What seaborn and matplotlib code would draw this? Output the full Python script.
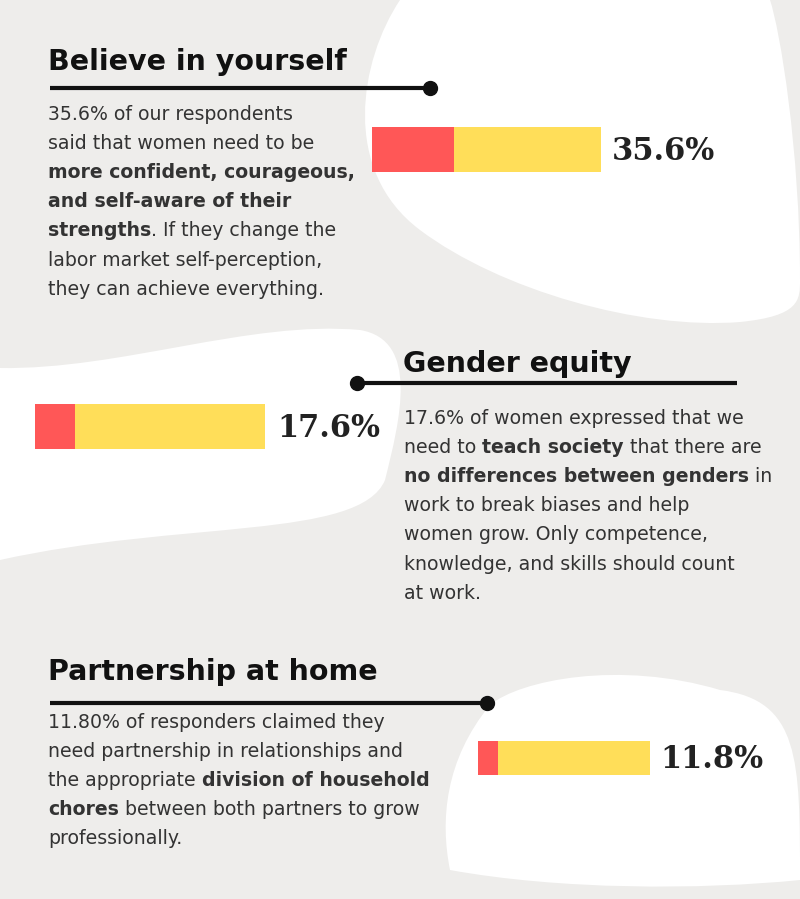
import matplotlib
matplotlib.use("Agg")
import matplotlib.pyplot as plt
from matplotlib.path import Path
from matplotlib.patches import PathPatch
import seaborn as sns

# data
labels = ["Believe in yourself", "Gender equity", "Partnership at home"]
shares = [35.6, 17.6, 11.8]
share_text = ["35.6%", "17.6%", "11.8%"]

RED, YELLOW, BG = "#FF5757", "#FFDE59", "#EEEDEB"
W, H = 800, 899
fig = plt.figure(figsize=(W / 100, H / 100), dpi=100, facecolor=BG)
ax = fig.add_axes([0, 0, 1, 1])
ax.set_xlim(0, W)
ax.set_ylim(H, 0)
ax.axis("off")

def blob(pts):
    # closed smooth blob from a list of bezier control points
    verts = pts + [pts[0]]
    codes = [Path.MOVETO] + [Path.CURVE4] * (len(verts) - 1)
    ax.add_patch(PathPatch(Path(verts, codes), fc="white", ec="none", zorder=0))

blob([(400, 0), (360, 60), (340, 170), (420, 230), (500, 290), (640, 330), (740, 322),
      (800, 316), (800, 300), (800, 280), (800, 150), (780, 30), (770, 0),
      (700, -5), (500, -5), (400, 0)])
blob([(0, 368), (120, 370), (250, 320), (360, 330), (420, 340), (400, 420), (385, 480),
      (360, 540), (180, 520), (0, 560), (-10, 500), (-10, 420), (0, 368)])
blob([(490, 705), (520, 680), (620, 660), (720, 690), (800, 700), (800, 760), (800, 880),
      (700, 890), (560, 890), (450, 870), (440, 820), (445, 760), (490, 705)])

HEAD = dict(family="DejaVu Sans", weight="bold", fontsize=20.5, color="#111111")
BODY = "DejaVu Sans"
fig.canvas.draw()
rend = fig.canvas.get_renderer()

def rich(x, y, segs):
    for txt, bold in segs:
        t = ax.text(x, y, txt, family=BODY, fontsize=13.6, color="#333333",
                    weight="bold" if bold else "normal", va="center")
        bb = t.get_window_extent(renderer=rend)
        x += bb.width

def heading(x, y, txt, x0, x1, ly, dot):
    ax.text(x, y, txt, va="center", **HEAD)
    ax.plot([x0, x1], [ly, ly], color="#111111", lw=3, solid_capstyle="butt")
    ax.plot([dot], [ly], "o", color="#111111", ms=10)

heading(48, 62, labels[0], 50, 430, 88, 430)
heading(403, 364, labels[1], 357, 737, 383, 357)
heading(48, 672, labels[2], 50, 487, 703, 487)

block1 = [[("35.6% of our respondents", 0)], [("said that women need to be", 0)],
          [("more confident, courageous,", 1)], [("and self-aware of their", 1)],
          [("strengths", 1), (". If they change the", 0)], [("labor market self-perception,", 0)],
          [("they can achieve everything.", 0)]]
block2 = [[("17.6% of women expressed that we", 0)],
          [("need to ", 0), ("teach society", 1), (" that there are", 0)],
          [("no differences between genders", 1), (" in", 0)],
          [("work to break biases and help", 0)], [("women grow. Only competence,", 0)],
          [("knowledge, and skills should count", 0)], [("at work.", 0)]]
block3 = [[("11.80% of responders claimed they", 0)],
          [("need partnership in relationships and", 0)],
          [("the appropriate ", 0), ("division of household", 1)],
          [("chores", 1), (" between both partners to grow", 0)], [("professionally.", 0)]]
for x, y0, blk in [(48, 114, block1), (404, 418, block2), (48, 722, block3)]:
    for i, line in enumerate(blk):
        rich(x, y0 + i * 29.2, line)

# bars: pixel boxes (x0, x1, ytop, ybot) and label x
boxes = [(372, 601, 127, 172, 612), (35, 265, 404, 449, 277), (478, 650, 741, 775, 660)]
for (x0, x1, yt, yb, lx), v, s in zip(boxes, shares, share_text):
    bax = fig.add_axes([x0 / W, 1 - yb / H, (x1 - x0) / W, (yb - yt) / H])
    sns.barplot(x=[100], y=[0], orient="h", width=1, color=YELLOW, saturation=1, ax=bax)
    sns.barplot(x=[v], y=[0], orient="h", width=1, color=RED, saturation=1, ax=bax)
    bax.set_xlim(0, 100)
    bax.set_ylim(0.5, -0.5)
    bax.axis("off")
    ax.text(lx, (yt + yb) / 2 + 2, s, family="DejaVu Serif", weight="bold", fontsize=22,
            color="#222222", va="center")

fig.savefig("out.png", dpi=100, facecolor=BG)
